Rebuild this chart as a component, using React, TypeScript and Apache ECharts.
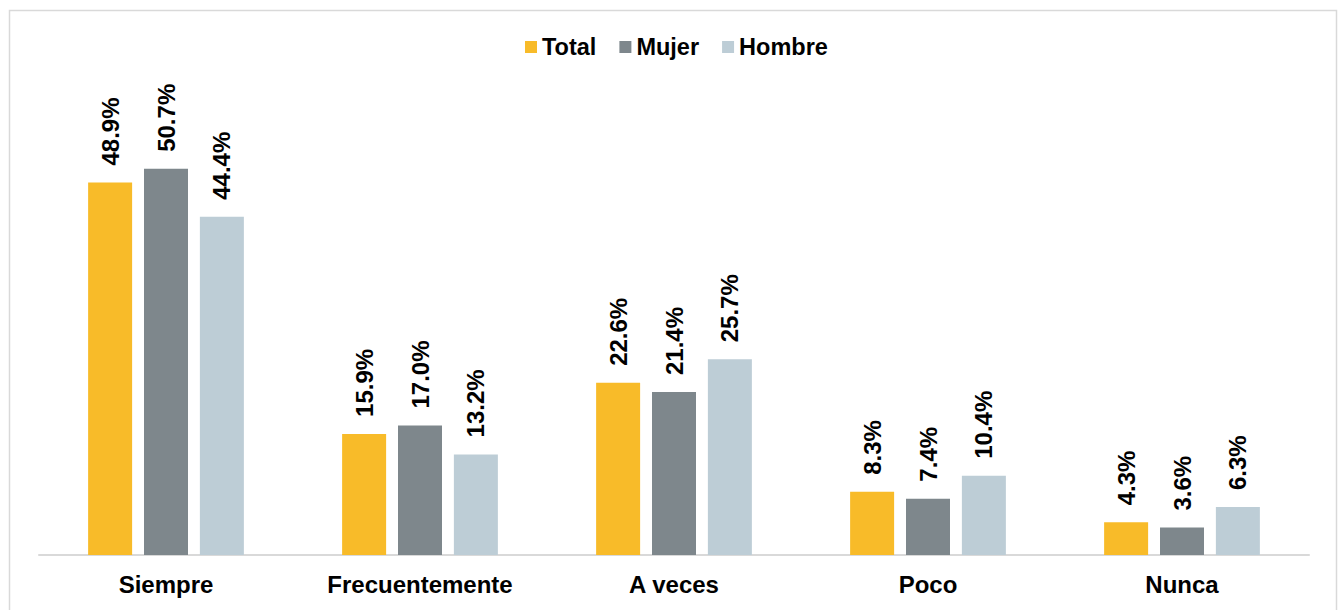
import React, { useEffect, useRef } from "react";
import * as echarts from "echarts";

const categories = ["Siempre", "Frecuentemente", "A veces", "Poco", "Nunca"];
const seriesNames = ["Total", "Mujer", "Hombre"];
const totalValues = [48.9, 15.9, 22.6, 8.3, 4.3];
const mujerValues = [50.7, 17.0, 21.4, 7.4, 3.6];
const hombreValues = [44.4, 13.2, 25.7, 10.4, 6.3];
const colors = ["#F8BB29", "#7E878C", "#BDCDD6"];

export default function App() {
  const ref = useRef<HTMLDivElement>(null);
  useEffect(() => {
    if (!ref.current) return;
    const chart = echarts.init(ref.current, null, { renderer: "svg" });
    const font = "'Liberation Sans', Arial, sans-serif";
    const values = [totalValues, mujerValues, hombreValues];
    chart.setOption({
      animation: false,
      textStyle: { fontFamily: font },
      legend: {
        top: 30,
        left: 520,
        itemWidth: 12,
        itemHeight: 12,
        itemGap: 23,
        icon: "rect",
        textStyle: { fontSize: 23.5, fontWeight: "bold", color: "#000", fontFamily: font },
        data: seriesNames,
      },
      graphic: [
        {
          type: "rect",
          shape: { x: 9.5, y: 10.5, width: 1327, height: 620 },
          style: { fill: "none", stroke: "#D9D9D9", lineWidth: 1.5 },
          silent: true,
        },
      ],
      grid: { left: 39, right: 29, top: 98, bottom: 55, containLabel: false },
      xAxis: {
        type: "category",
        data: categories,
        axisLine: { lineStyle: { color: "#D9D9D9", width: 2 } },
        axisTick: { show: false },
        axisLabel: { fontSize: 24, fontWeight: "bold", color: "#000", margin: 17, fontFamily: font },
      },
      yAxis: {
        type: "value",
        min: 0,
        max: 60,
        show: false,
        splitLine: { show: false },
      },
      series: seriesNames.map((name, i) => ({
        name,
        type: "bar",
        data: values[i],
        barWidth: 44,
        barGap: "27%",
        itemStyle: { color: colors[i] },
        label: {
          show: true,
          position: "top",
          rotate: 90,
          align: "left",
          verticalAlign: "middle",
          distance: 17,
          fontSize: 24,
          fontWeight: "bold",
          color: "#000",
          fontFamily: font,
          formatter: (p: any) => p.value.toFixed(1) + "%",
        },
      })),
    });
    return () => chart.dispose();
  }, []);
  return (
    <div
      ref={ref}
      style={{ position: "fixed", left: 0, top: 0, width: 1338, height: 610, background: "#fff" }}
    />
  );
}
